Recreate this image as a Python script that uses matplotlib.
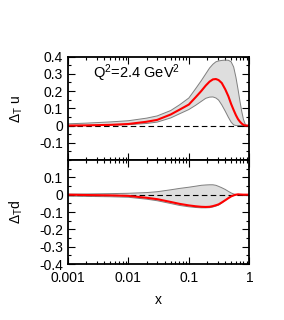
import matplotlib
matplotlib.use('Agg')
import matplotlib.pyplot as plt
from matplotlib.ticker import FixedLocator, MultipleLocator, LogLocator, NullFormatter

plt.rcParams['font.family'] = ['Liberation Sans', 'DejaVu Sans']
plt.rcParams['mathtext.fontset'] = 'custom'
plt.rcParams['mathtext.rm'] = 'Liberation Sans'
plt.rcParams['mathtext.it'] = 'Liberation Sans'

# values
x_u = [0.001, 0.002, 0.005, 0.01, 0.02, 0.03, 0.05, 0.07, 0.1, 0.13, 0.16, 0.19, 0.22,
       0.25, 0.28, 0.31, 0.35, 0.40, 0.45, 0.50, 0.55, 0.60, 0.65, 0.70, 0.75, 0.80, 0.85, 0.9, 1.0]
u_mid = [0.0, 0.001, 0.004, 0.009, 0.022, 0.033, 0.064, 0.092, 0.122, 0.165, 0.2, 0.232, 0.255,
         0.268, 0.27, 0.264, 0.247, 0.21, 0.17, 0.125, 0.09, 0.06, 0.037, 0.022, 0.011, 0.004, 0.0, 0.0, 0.0]
u_hi = [0.01, 0.014, 0.021, 0.028, 0.043, 0.056, 0.087, 0.12, 0.16, 0.215, 0.26, 0.3, 0.334,
        0.356, 0.37, 0.375, 0.378, 0.38, 0.379, 0.37, 0.34, 0.28, 0.21, 0.14, 0.08, 0.035, 0.01, 0.0, 0.0]
u_lo = [-0.002, 0.0, 0.002, 0.005, 0.012, 0.02, 0.044, 0.068, 0.093, 0.118, 0.14, 0.158, 0.165,
        0.166, 0.16, 0.148, 0.12, 0.083, 0.048, 0.02, 0.004, 0.0, 0.0, 0.0, 0.0, 0.0, 0.0, 0.0, 0.0]

x_d = [0.001, 0.002, 0.005, 0.01, 0.02, 0.03, 0.05, 0.07, 0.1, 0.13, 0.16, 0.19, 0.22,
       0.25, 0.28, 0.31, 0.35, 0.40, 0.45, 0.50, 0.55, 0.60, 0.65, 0.70, 0.8, 1.0]
d_mid = [0.0, -0.002, -0.004, -0.007, -0.018, -0.026, -0.042, -0.053, -0.062, -0.067, -0.07, -0.071, -0.07,
         -0.066, -0.061, -0.056, -0.045, -0.032, -0.02, -0.01, -0.004, 0.0, 0.002, 0.001, 0.0, 0.0]
d_hi = [0.003, 0.004, 0.006, 0.008, 0.012, 0.017, 0.028, 0.036, 0.043, 0.049, 0.054, 0.056, 0.057,
        0.057, 0.054, 0.048, 0.04, 0.03, 0.019, 0.01, 0.004, 0.001, 0.0, 0.0, 0.0, 0.0]
d_lo = [-0.008, -0.01, -0.012, -0.015, -0.026, -0.035, -0.051, -0.062, -0.07, -0.074, -0.076, -0.076, -0.075,
        -0.071, -0.066, -0.06, -0.048, -0.033, -0.02, -0.01, -0.004, 0.0, 0.0, 0.0, 0.0, 0.0]

u_ticks = [-0.1, 0, 0.1, 0.2, 0.3, 0.4]
d_ticks = [-0.4, -0.3, -0.2, -0.1, 0, 0.1]

FS = 10


def style_axis(ax, ticks, ylim):
    ax.set_xscale('log')
    ax.set_xlim(0.001, 1)
    ax.set_ylim(*ylim)
    ax.yaxis.set_major_locator(FixedLocator(ticks))
    ax.yaxis.set_minor_locator(MultipleLocator(0.05))
    ax.yaxis.set_major_formatter(plt.FuncFormatter(lambda v, p: '0' if abs(v) < 1e-9 else '%g' % v))
    ax.xaxis.set_major_locator(LogLocator(base=10, numticks=10))
    ax.xaxis.set_minor_locator(LogLocator(base=10, subs=range(2, 10), numticks=10))
    ax.xaxis.set_minor_formatter(NullFormatter())
    ax.tick_params(which='both', direction='in', top=True, right=True, labelsize=FS, width=0.8)
    ax.tick_params(which='major', length=5)
    ax.tick_params(which='minor', length=2.5)
    ax.tick_params(axis='x', pad=5)
    for s in ax.spines.values():
        s.set_linewidth(1.3)


fig = plt.figure(figsize=(2.84, 3.20), dpi=100)
ax1 = fig.add_axes([0.239, 0.5, 0.639, 0.323])
ax2 = fig.add_axes([0.239, 0.175, 0.639, 0.325], sharex=ax1)

ax1.fill_between(x_u, u_lo, u_hi, facecolor='#dedede', edgecolor='none')
ax1.plot(x_u, u_hi, color='#7f7f7f', lw=0.7)
ax1.plot(x_u, u_lo, color='#7f7f7f', lw=0.7)
ax1.axhline(0, color='black', lw=0.8, ls=(0, (5, 3)))
ax1.plot(x_u, u_mid, color='red', lw=1.5)
style_axis(ax1, u_ticks, (-0.2, 0.4))
ax1.tick_params(labelbottom=False)
ax1.set_ylabel(r'$\Delta_T$ u', fontsize=FS, labelpad=10)
ax1.text(0.14, 0.84, r'Q$^2$=2.4 GeV$^2$', transform=ax1.transAxes, fontsize=10.5, va='center')

ax2.fill_between(x_d, d_lo, d_hi, facecolor='#dedede', edgecolor='none')
ax2.plot(x_d, d_hi, color='#7f7f7f', lw=0.7)
ax2.plot(x_d, d_lo, color='#7f7f7f', lw=0.7)
ax2.axhline(0, color='black', lw=0.8, ls=(0, (5, 3)))
ax2.plot(x_d, d_mid, color='red', lw=1.5)
style_axis(ax2, d_ticks, (-0.4, 0.2))
ax2.xaxis.set_major_formatter(plt.FuncFormatter(lambda v, p: '%g' % v))
ax2.set_ylabel(r'$\Delta_T$d', fontsize=FS, labelpad=10)
ax2.set_xlabel('x', fontsize=FS, labelpad=6)

fig.savefig('out.png', dpi=100)
